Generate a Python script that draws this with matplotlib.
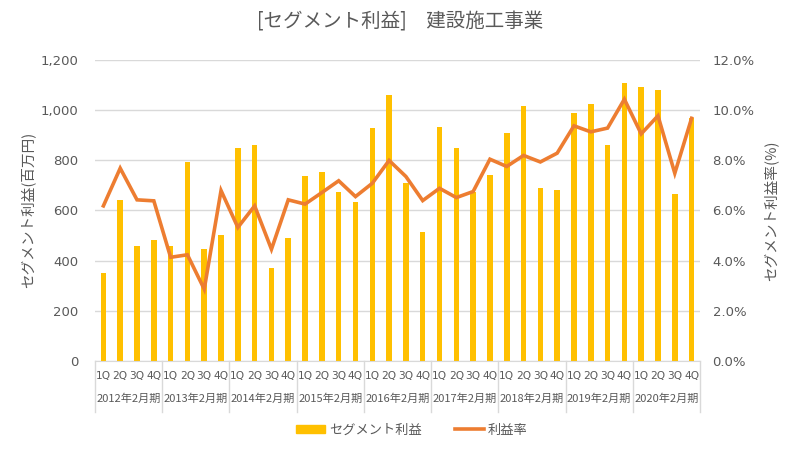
import matplotlib
matplotlib.use("Agg")
from matplotlib import pyplot as plt
from matplotlib.patches import Patch
from matplotlib.lines import Line2D

plt.rcParams['font.family'] = ['Noto Sans CJK JP', 'DejaVu Sans']

# Fiscal years (ending February) and quarters
years    = ["2012年2月期", "2013年2月期", "2014年2月期", "2015年2月期", "2016年2月期",
            "2017年2月期", "2018年2月期", "2019年2月期", "2020年2月期"]
quarters = ["1Q", "2Q", "3Q", "4Q"]

# Segment profit (million yen)
profit = [350, 640, 458, 481,
          458, 793, 446, 500,
          850, 861, 372, 488,
          738, 753, 674, 634,
          929, 1060, 708, 514,
          933, 850, 675, 741,
          909, 1018, 690, 682,
          989, 1026, 861, 1108,
          1092, 1078, 667, 970]

# Profit margin (%)
margin = [6.18, 7.68, 6.42, 6.38,
          4.13, 4.23, 2.86, 6.79,
          5.32, 6.18, 4.45, 6.42,
          6.25, 6.71, 7.18, 6.55,
          7.08, 7.99, 7.35, 6.39,
          6.88, 6.51, 6.75, 8.04,
          7.75, 8.19, 7.93, 8.28,
          9.37, 9.13, 9.28, 10.43,
          9.05, 9.77, 7.48, 9.67]

bar_color  = "#FFC000"
line_color = "#ED7D31"
text_color = "#595959"
grid_color = "#D9D9D9"

n = len(profit)
x = list(range(n))

fig = plt.figure(figsize=(8, 4.5), dpi=100)
ax = fig.add_axes([0.11875, 0.198, 0.75625, 0.669])
ax2 = ax.twinx()

ax.bar(x, profit, width=0.33, color=bar_color, zorder=2)
ax2.plot(x, margin, color=line_color, lw=2.6, solid_joinstyle='miter', zorder=3)

ax.set_xlim(-0.5, n - 0.5)
ax.set_ylim(0, 1200)
ax.set_yticks(range(0, 1201, 200))
ax.set_yticklabels(["{:,}".format(v) for v in range(0, 1201, 200)],
                   family='DejaVu Sans')
ax2.set_ylim(0, 12)
ax2.set_yticks(range(0, 13, 2))
ax2.set_yticklabels(["%.1f%%" % v for v in range(0, 13, 2)], family='DejaVu Sans')

ax.yaxis.grid(True, color=grid_color, lw=1, zorder=0)
ax.set_axisbelow(True)

for a in (ax, ax2):
    for s in a.spines.values():
        s.set_visible(False)
    a.tick_params(axis='y', length=0, colors=text_color, labelsize=9.5)
ax.tick_params(axis='y', pad=12)
ax2.tick_params(axis='y', pad=9)
ax.spines['bottom'].set_visible(True)
ax.spines['bottom'].set_color(grid_color)

# quarter labels
ax.set_xticks(x)
ax.set_xticklabels(quarters * len(years), family='DejaVu Sans')
ax.tick_params(axis='x', length=0, colors=text_color, labelsize=7.7, pad=7)

# year labels and separators
trans = ax.get_xaxis_transform()
for i, yr in enumerate(years):
    ax.text(i * 4 + 1.5, -0.127, yr, transform=trans, ha='center', va='center',
            fontsize=8, color=text_color)
for k in range(len(years) + 1):
    ax.add_line(Line2D([k * 4 - 0.5, k * 4 - 0.5], [0, -0.17], transform=trans,
                       color=grid_color, lw=1, clip_on=False))

ax.set_ylabel("セグメント利益(百万円)", color=text_color, fontsize=10.5, labelpad=4)
ax2.set_ylabel("セグメント利益率(%)", color=text_color, fontsize=10.5,
               rotation=90, labelpad=6)

fig.text(0.5, 0.951, "[セグメント利益]　建設施工事業", ha='center', va='center',
         fontsize=14, color=text_color)

handles = [Patch(color=bar_color), Line2D([0], [0], color=line_color, lw=2.6)]
fig.legend(handles, ["セグメント利益", "利益率"], loc='center',
           bbox_to_anchor=(0.515, 0.044), ncol=2, frameon=False, fontsize=9.5,
           labelcolor=text_color, handlelength=2.2, handleheight=0.5,
           columnspacing=2.5, handletextpad=0.3)

plt.savefig("out.png", dpi=100)
